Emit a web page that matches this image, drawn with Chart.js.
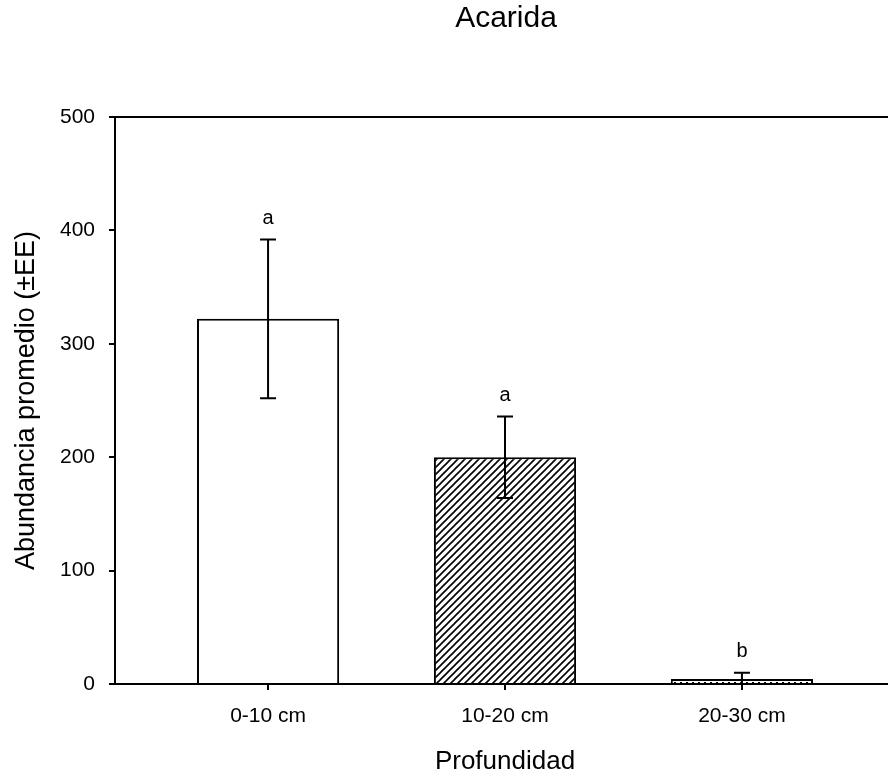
<!DOCTYPE html>
<html>
<head>
<meta charset="utf-8">
<script src="https://cdn.jsdelivr.net/npm/chart.js@4.4.1/dist/chart.umd.min.js"></script>
<style>
  html, body { margin: 0; padding: 0; background: #fff; overflow: hidden; }
  #wrap { width: 896px; height: 776px; position: relative; }
</style>
</head>
<body>
<div id="wrap"><canvas id="grafico"></canvas></div>
<script>
// ----- Datos -----
const categorias = ['0-10 cm', '10-20 cm', '20-30 cm'];
const abundancia = [322, 200, 4.5];
const errorEE = [70, 36, 5.5];
const letras = ['a', 'a', 'b'];
const ticksY = [0, 100, 200, 300, 400, 500];

const fuente = '"Liberation Sans", Arial, sans-serif';

// patrón de rayas diagonales
function patronRayas() {
  const c = document.createElement('canvas');
  c.width = 7; c.height = 7;
  const g = c.getContext('2d');
  g.fillStyle = '#fff';
  g.fillRect(0, 0, 7, 7);
  g.strokeStyle = '#000';
  g.lineWidth = 1.6;
  g.beginPath();
  g.moveTo(-1, 8); g.lineTo(8, -1);
  g.moveTo(-1, 1); g.lineTo(1, -1);
  g.moveTo(6, 8); g.lineTo(8, 6);
  g.stroke();
  return g.createPattern(c, 'repeat');
}

// patrón de puntos
function patronPuntos() {
  const c = document.createElement('canvas');
  c.width = 6; c.height = 3;
  const g = c.getContext('2d');
  g.fillStyle = '#fff';
  g.fillRect(0, 0, 6, 3);
  g.fillStyle = '#000';
  g.fillRect(2, 1, 2, 2);
  return g.createPattern(c, 'repeat');
}

// marco, barras de error, letras y título
const extras = {
  id: 'extras',
  afterDatasetsDraw(chart) {
    const ctx = chart.ctx;
    const xs = chart.scales.x;
    const ys = chart.scales.y;
    const area = chart.chartArea;

    ctx.save();
    ctx.strokeStyle = '#000';
    ctx.lineWidth = 2;
    ctx.beginPath();
    ctx.moveTo(area.left - 1, area.top);
    ctx.lineTo(area.right, area.top);
    ctx.lineTo(area.right, area.bottom);
    ctx.stroke();

    abundancia.forEach((v, i) => {
      const x = xs.getPixelForValue(i);
      const yArriba = ys.getPixelForValue(v + errorEE[i]);
      const yAbajo = ys.getPixelForValue(Math.max(0, v - errorEE[i]));
      ctx.beginPath();
      ctx.moveTo(x, yArriba);
      ctx.lineTo(x, yAbajo);
      ctx.moveTo(x - 8, yArriba);
      ctx.lineTo(x + 8, yArriba);
      if (v - errorEE[i] > 0) {
        ctx.moveTo(x - 8, yAbajo);
        ctx.lineTo(x + 8, yAbajo);
      }
      ctx.stroke();

      ctx.fillStyle = '#000';
      ctx.font = '20px ' + fuente;
      ctx.textAlign = 'center';
      ctx.textBaseline = 'middle';
      ctx.fillText(letras[i], x, yArriba - 21);
    });

    ctx.font = '30px ' + fuente;
    ctx.textAlign = 'center';
    ctx.textBaseline = 'middle';
    ctx.fillText('Acarida', (area.left + area.right) / 2 + 1, 19);
    ctx.restore();
  }
};

const ctxGrafico = document.getElementById('grafico').getContext('2d');

new Chart(ctxGrafico, {
  type: 'bar',
  data: {
    datasets: [{
      label: 'Acarida',
      data: abundancia.map((v, i) => ({ x: i, y: v })),
      backgroundColor: ['#ffffff', patronRayas(), patronPuntos()],
      borderColor: '#000',
      borderWidth: 2,
      categoryPercentage: 1,
      barPercentage: 0.6
    }]
  },
  options: {
    responsive: true,
    maintainAspectRatio: false,
    animation: false,
    layout: { padding: { left: 0, top: 117, right: 1, bottom: 0 } },
    plugins: {
      legend: { display: false },
      tooltip: { enabled: false }
    },
    scales: {
      x: {
        type: 'linear',
        offset: false,
        min: -0.646,
        max: 2.646,
        afterBuildTicks: s => { s.ticks = categorias.map((c, i) => ({ value: i })); },
        afterFit: s => { s.height = 92; },
        ticks: {
          callback: v => categorias[v],
          color: '#000',
          font: { family: fuente, size: 21 },
          padding: 14
        },
        grid: {
          offset: false,
          drawOnChartArea: false,
          color: '#000',
          tickColor: '#000',
          tickLength: 6,
          lineWidth: 2
        },
        border: { display: true, color: '#000', width: 2 },
        title: {
          display: true,
          text: 'Profundidad',
          color: '#000',
          font: { family: fuente, size: 26, lineHeight: 1.1 },
          padding: { top: 0, bottom: 0 }
        }
      },
      y: {
        min: 0,
        max: 500,
        afterBuildTicks: s => { s.ticks = ticksY.map(v => ({ value: v })); },
        afterFit: s => { s.width = 115; },
        ticks: {
          color: '#000',
          font: { family: fuente, size: 21 },
          padding: 14
        },
        grid: {
          drawOnChartArea: false,
          color: '#000',
          tickColor: '#000',
          tickLength: 6,
          lineWidth: 2
        },
        border: { display: true, color: '#000', width: 2 },
        title: {
          display: true,
          text: 'Abundancia promedio (±EE)',
          color: '#000',
          font: { family: fuente, size: 27, lineHeight: 1.2 },
          padding: { top: 10, bottom: 0 }
        }
      }
    }
  },
  plugins: [extras]
});
</script>
</body>
</html>
